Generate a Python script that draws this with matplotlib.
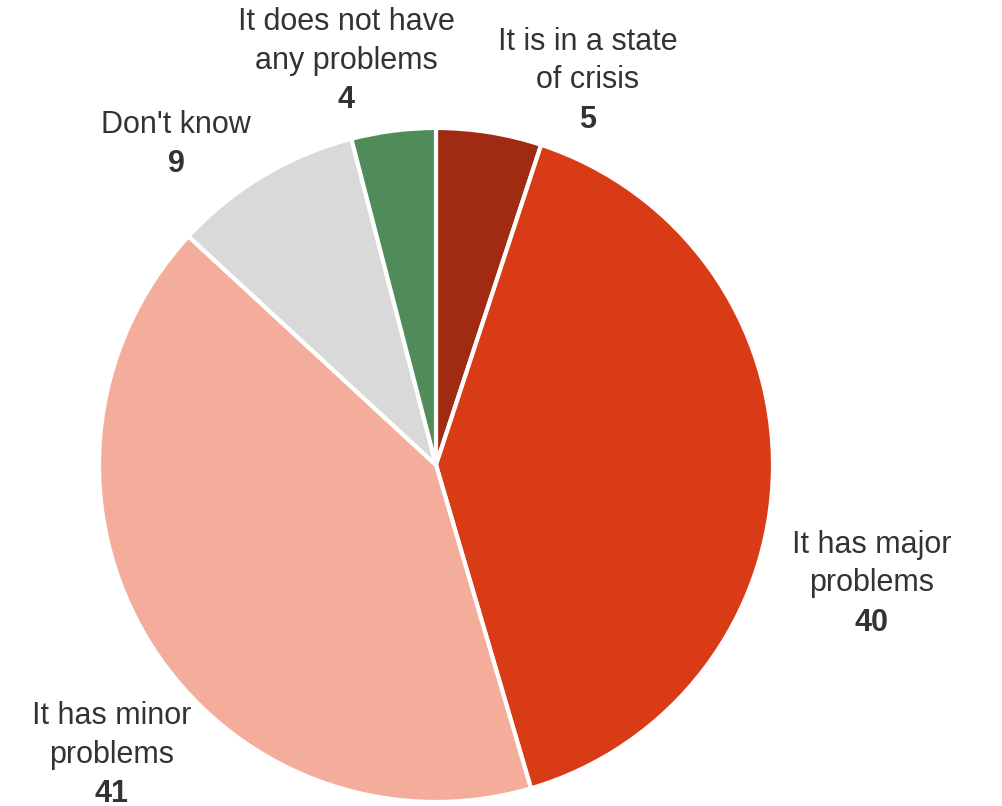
import matplotlib
matplotlib.use("Agg")
import matplotlib.pyplot as plt

# answers, clockwise from 12 o'clock
labels = ["It is in a state\nof crisis", "It has major\nproblems", "It has minor\nproblems",
          "Don't know", "It does not have\nany problems"]
values = [5, 40, 41, 9, 4]
colors = ["#A02B12", "#D93B16", "#F4AD9B", "#D9D9D9", "#4F8C5A"]

# where each label block sits (x centre, y centre of first line), pixel coords
label_pos = [(588, 42), (872, 545), (112, 716), (176, 125), (346, 22)]

plt.rcParams["font.family"] = ["Liberation Sans Narrow", "Liberation Sans", "DejaVu Sans"]

W, H = 1002, 806
fig = plt.figure(figsize=(W / 100, H / 100), dpi=100)
ax = fig.add_axes([0, 0, 1, 1])

cx, cy, r = 436, 465, 337
wedges, _ = ax.pie(values, colors=colors, startangle=-90, counterclock=True,
                   center=(cx, cy), radius=r, frame=True,
                   wedgeprops=dict(edgecolor="white", linewidth=3))
ax.set_xlim(0, W)
ax.set_ylim(H, 0)
ax.set_aspect("equal")
ax.axis("off")

line_h = 38.5
for lab, val, (x, y) in zip(labels, values, label_pos):
    lines = lab.split("\n")
    for i, ln in enumerate(lines):
        ax.text(x, y + i * line_h, ln, ha="center", va="center", fontsize=22,
                color="#333333")
    ax.text(x, y + len(lines) * line_h + 1, str(val), ha="center", va="center",
            fontsize=22, fontweight="bold", color="#333333")

fig.savefig("out.png", dpi=100)
